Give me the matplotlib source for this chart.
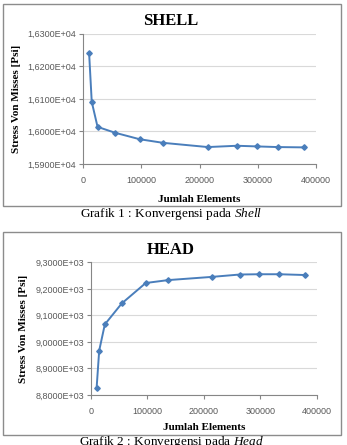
import numpy as np
import matplotlib.pyplot as plt
from matplotlib.patches import Rectangle

plt.rcParams['mathtext.fontset'] = 'custom'
plt.rcParams['mathtext.rm'] = 'Liberation Serif'
plt.rcParams['mathtext.it'] = 'Liberation Serif:italic'

# jumlah elemen (sama untuk kedua grafik)
elements = [10000, 14500, 24500, 54500, 97000, 137000, 214000, 264000, 298000, 334000, 380000]

# stress von misses [psi]
shell_stress = [16240, 16091, 16014, 15996, 15976, 15965, 15952, 15956, 15954, 15952, 15951]
head_stress = [8828, 8967, 9066, 9145, 9222, 9233, 9245, 9254, 9255, 9255, 9252]

x_ticks = [0, 100000, 200000, 300000, 400000]
shell_ticks = [15900, 16000, 16100, 16200, 16300]
head_ticks = [8800, 8900, 9000, 9100, 9200, 9300]

W, H = 347, 445
blue = '#4a7ebb'
axis_gray = '#868686'
grid_gray = '#d9d9d9'
tick_col = '#595959'

fig = plt.figure(figsize=(W / 100, H / 100), dpi=100)
fig.patch.set_facecolor('white')


def sci_label(v, exp):
    return ('%.4f' % (v / 10 ** exp)).replace('.', ',') + 'E+%02d' % exp


def make_chart(rect, y, yticks, exp, title, title_y, ylab_x, xlab_y):
    # rect in pixel coords: left, top, right, bottom
    l, t, r, b = rect
    ax = fig.add_axes([l / W, 1 - b / H, (r - l) / W, (b - t) / H])
    ax.plot(elements, y, color=blue, lw=1.4, marker='D', ms=2.8,
            mfc=blue, mec=blue, zorder=3, clip_on=False)
    ax.set_xlim(0, 400000)
    ax.set_ylim(yticks[0], yticks[-1])
    ax.set_xticks(x_ticks)
    ax.set_xticklabels([str(v) for v in x_ticks])
    ax.set_yticks(yticks)
    ax.set_yticklabels([sci_label(v, exp) for v in yticks])
    for s in ['top', 'right']:
        ax.spines[s].set_visible(False)
    for s in ['left', 'bottom']:
        ax.spines[s].set_color(axis_gray)
        ax.spines[s].set_linewidth(0.8)
    ax.yaxis.grid(True, color=grid_gray, lw=0.8)
    ax.set_axisbelow(True)
    ax.tick_params(axis='both', direction='out', length=3, width=0.8,
                   color=axis_gray, labelsize=6.5, labelcolor=tick_col, pad=2)
    ax.tick_params(axis='x', pad=6)
    for lab in ax.get_xticklabels() + ax.get_yticklabels():
        lab.set_fontfamily('Liberation Sans')
    fig.text(171 / W, 1 - title_y / H, title, ha='center', va='center',
             fontsize=12, fontweight='bold', fontfamily='Liberation Serif')
    fig.text(ylab_x / W, 1 - ((t + b) / 2) / H, 'Stress Von Misses [Psi]',
             rotation=90, ha='center', va='center', fontsize=8,
             fontweight='bold', fontfamily='Liberation Serif')
    fig.text(((l + r) / 2) / W, 1 - xlab_y / H, 'Jumlah Elements',
             ha='center', va='center', fontsize=8, fontweight='bold',
             fontfamily='Liberation Serif')
    return ax


make_chart((83.3, 33.7, 316, 164), shell_stress, shell_ticks, 4, 'SHELL', 21, 17, 199)
make_chart((91, 262.3, 316.7, 395), head_stress, head_ticks, 3, 'HEAD', 250, 24, 428)

# bingkai chart
for (x0, y0, x1, y1) in [(3, 4, 341, 206), (3, 232, 341, 435)]:
    fig.patches.append(Rectangle((x0 / W, 1 - y1 / H), (x1 - x0) / W, (y1 - y0) / H,
                                 transform=fig.transFigure, fill=False,
                                 ec='#8c8c8c', lw=1.0))

# keterangan grafik
fig.text(171 / W, 1 - 214 / H, 'Grafik 1 : Konvergensi pada $\\it{Shell}$',
         ha='center', va='center', fontsize=9.5, fontfamily='Liberation Serif')
fig.text(171 / W, 1 - 442 / H, 'Grafik 2 : Konvergensi pada $\\it{Head}$',
         ha='center', va='center', fontsize=9.5, fontfamily='Liberation Serif')

fig.savefig('out.png', dpi=100)
